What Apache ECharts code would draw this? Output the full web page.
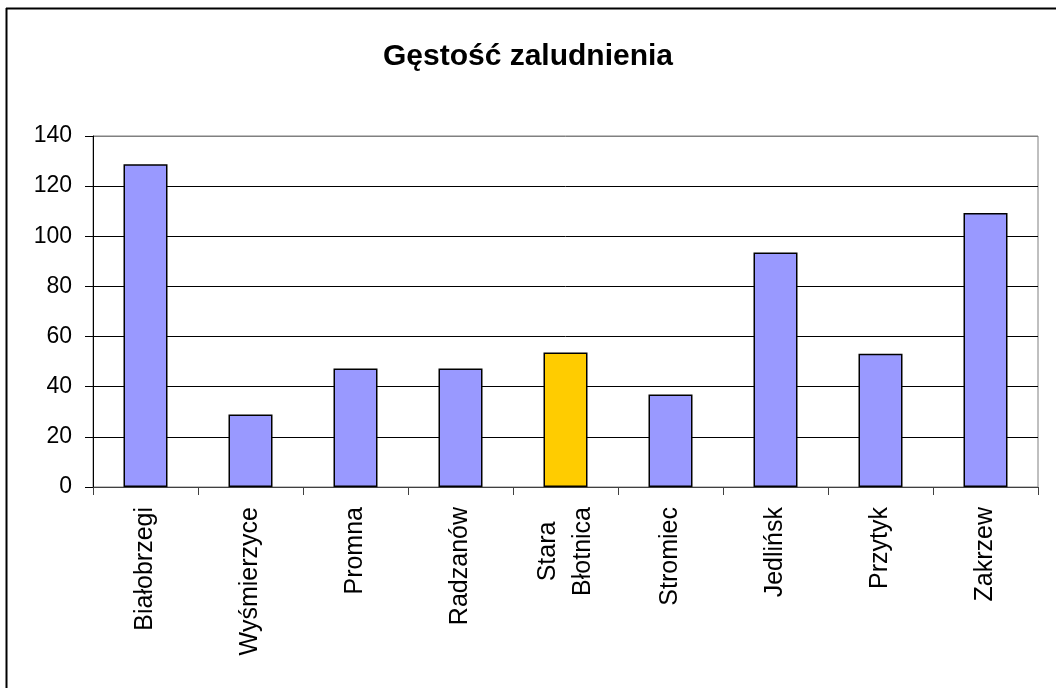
<!DOCTYPE html>
<html>
<head>
<meta charset="utf-8">
<script src="https://cdn.jsdelivr.net/npm/echarts@6/dist/echarts.min.js"></script>
<style>
  html, body { margin: 0; padding: 0; background: #fff; }
  #chart { width: 1056px; height: 688px; }
</style>
</head>
<body>
<div id="chart"></div>
<script>
// dane
var gminy = ['Białobrzegi', 'Wyśmierzyce', 'Promna', 'Radzanów', 'Stara\nBłotnica', 'Stromiec', 'Jedlińsk', 'Przytyk', 'Zakrzew'];
var gestosc = [128.7, 28.9, 47.3, 47.3, 53.6, 36.9, 93.5, 53.1, 109.3];
var wyrozniona = 'Stara\nBłotnica';
var yTicks = [0, 20, 40, 60, 80, 100, 120, 140];

var chart = echarts.init(document.getElementById('chart'));

var font = '"Liberation Sans", Arial, sans-serif';

var seriesData = [];
for (var i = 0; i < gminy.length; i++) {
    seriesData.push({
        value: gestosc[i],
        itemStyle: { color: gminy[i] === wyrozniona ? '#FFCC00' : '#9999FF' }
    });
}

// linie siatki czarne, ostatnia (ramka u góry) szara
var gridColors = [];
for (var j = 0; j < yTicks.length; j++) {
    gridColors.push(j === yTicks.length - 1 ? '#808080' : '#000');
}

var option = {
    backgroundColor: '#fff',
    animation: false,
    title: {
        text: 'Gęstość zaludnienia',
        left: 'center',
        top: 37,
        textStyle: { fontFamily: font, fontSize: 30, fontWeight: 'bold', color: '#000' }
    },
    graphic: [
        { type: 'line', shape: { x1: 6, y1: 8.5, x2: 1056, y2: 8.5 }, style: { stroke: '#000', lineWidth: 2 } },
        { type: 'line', shape: { x1: 6.5, y1: 8, x2: 6.5, y2: 688 }, style: { stroke: '#000', lineWidth: 2 } }
    ],
    grid: {
        left: 93,
        right: 18,
        top: 136,
        bottom: 201,
        show: true,
        borderColor: '#808080',
        borderWidth: 1
    },
    xAxis: {
        type: 'category',
        data: gminy,
        boundaryGap: true,
        axisLine: { lineStyle: { color: '#404040', width: 1 } },
        axisTick: { show: true, length: 8, lineStyle: { color: '#404040' } },
        axisLabel: {
            rotate: 90,
            margin: 20,
            interval: 0,
            color: '#000',
            fontFamily: font,
            fontSize: 25,
            formatter: function (v) {
                return v.split('\n').map(function (s) { return '{c|' + s + '}'; }).join('\n');
            },
            rich: {
                c: { align: 'center', fontFamily: font, fontSize: 25, color: '#000', lineHeight: 35 }
            }
        }
    },
    yAxis: {
        type: 'value',
        min: 0,
        max: 140,
        interval: 20,
        axisLine: { show: true, lineStyle: { color: '#000', width: 1 } },
        axisTick: { show: true, length: 8, lineStyle: { color: '#000' } },
        axisLabel: { margin: 21, color: '#000', fontFamily: font, fontSize: 23 },
        splitLine: { show: true, lineStyle: { color: gridColors, width: 1 } }
    },
    series: [
        {
            type: 'bar',
            barWidth: 44,
            itemStyle: { borderColor: '#000', borderWidth: 1.5 },
            data: seriesData
        }
    ]
};

chart.setOption(option);
</script>
</body>
</html>
